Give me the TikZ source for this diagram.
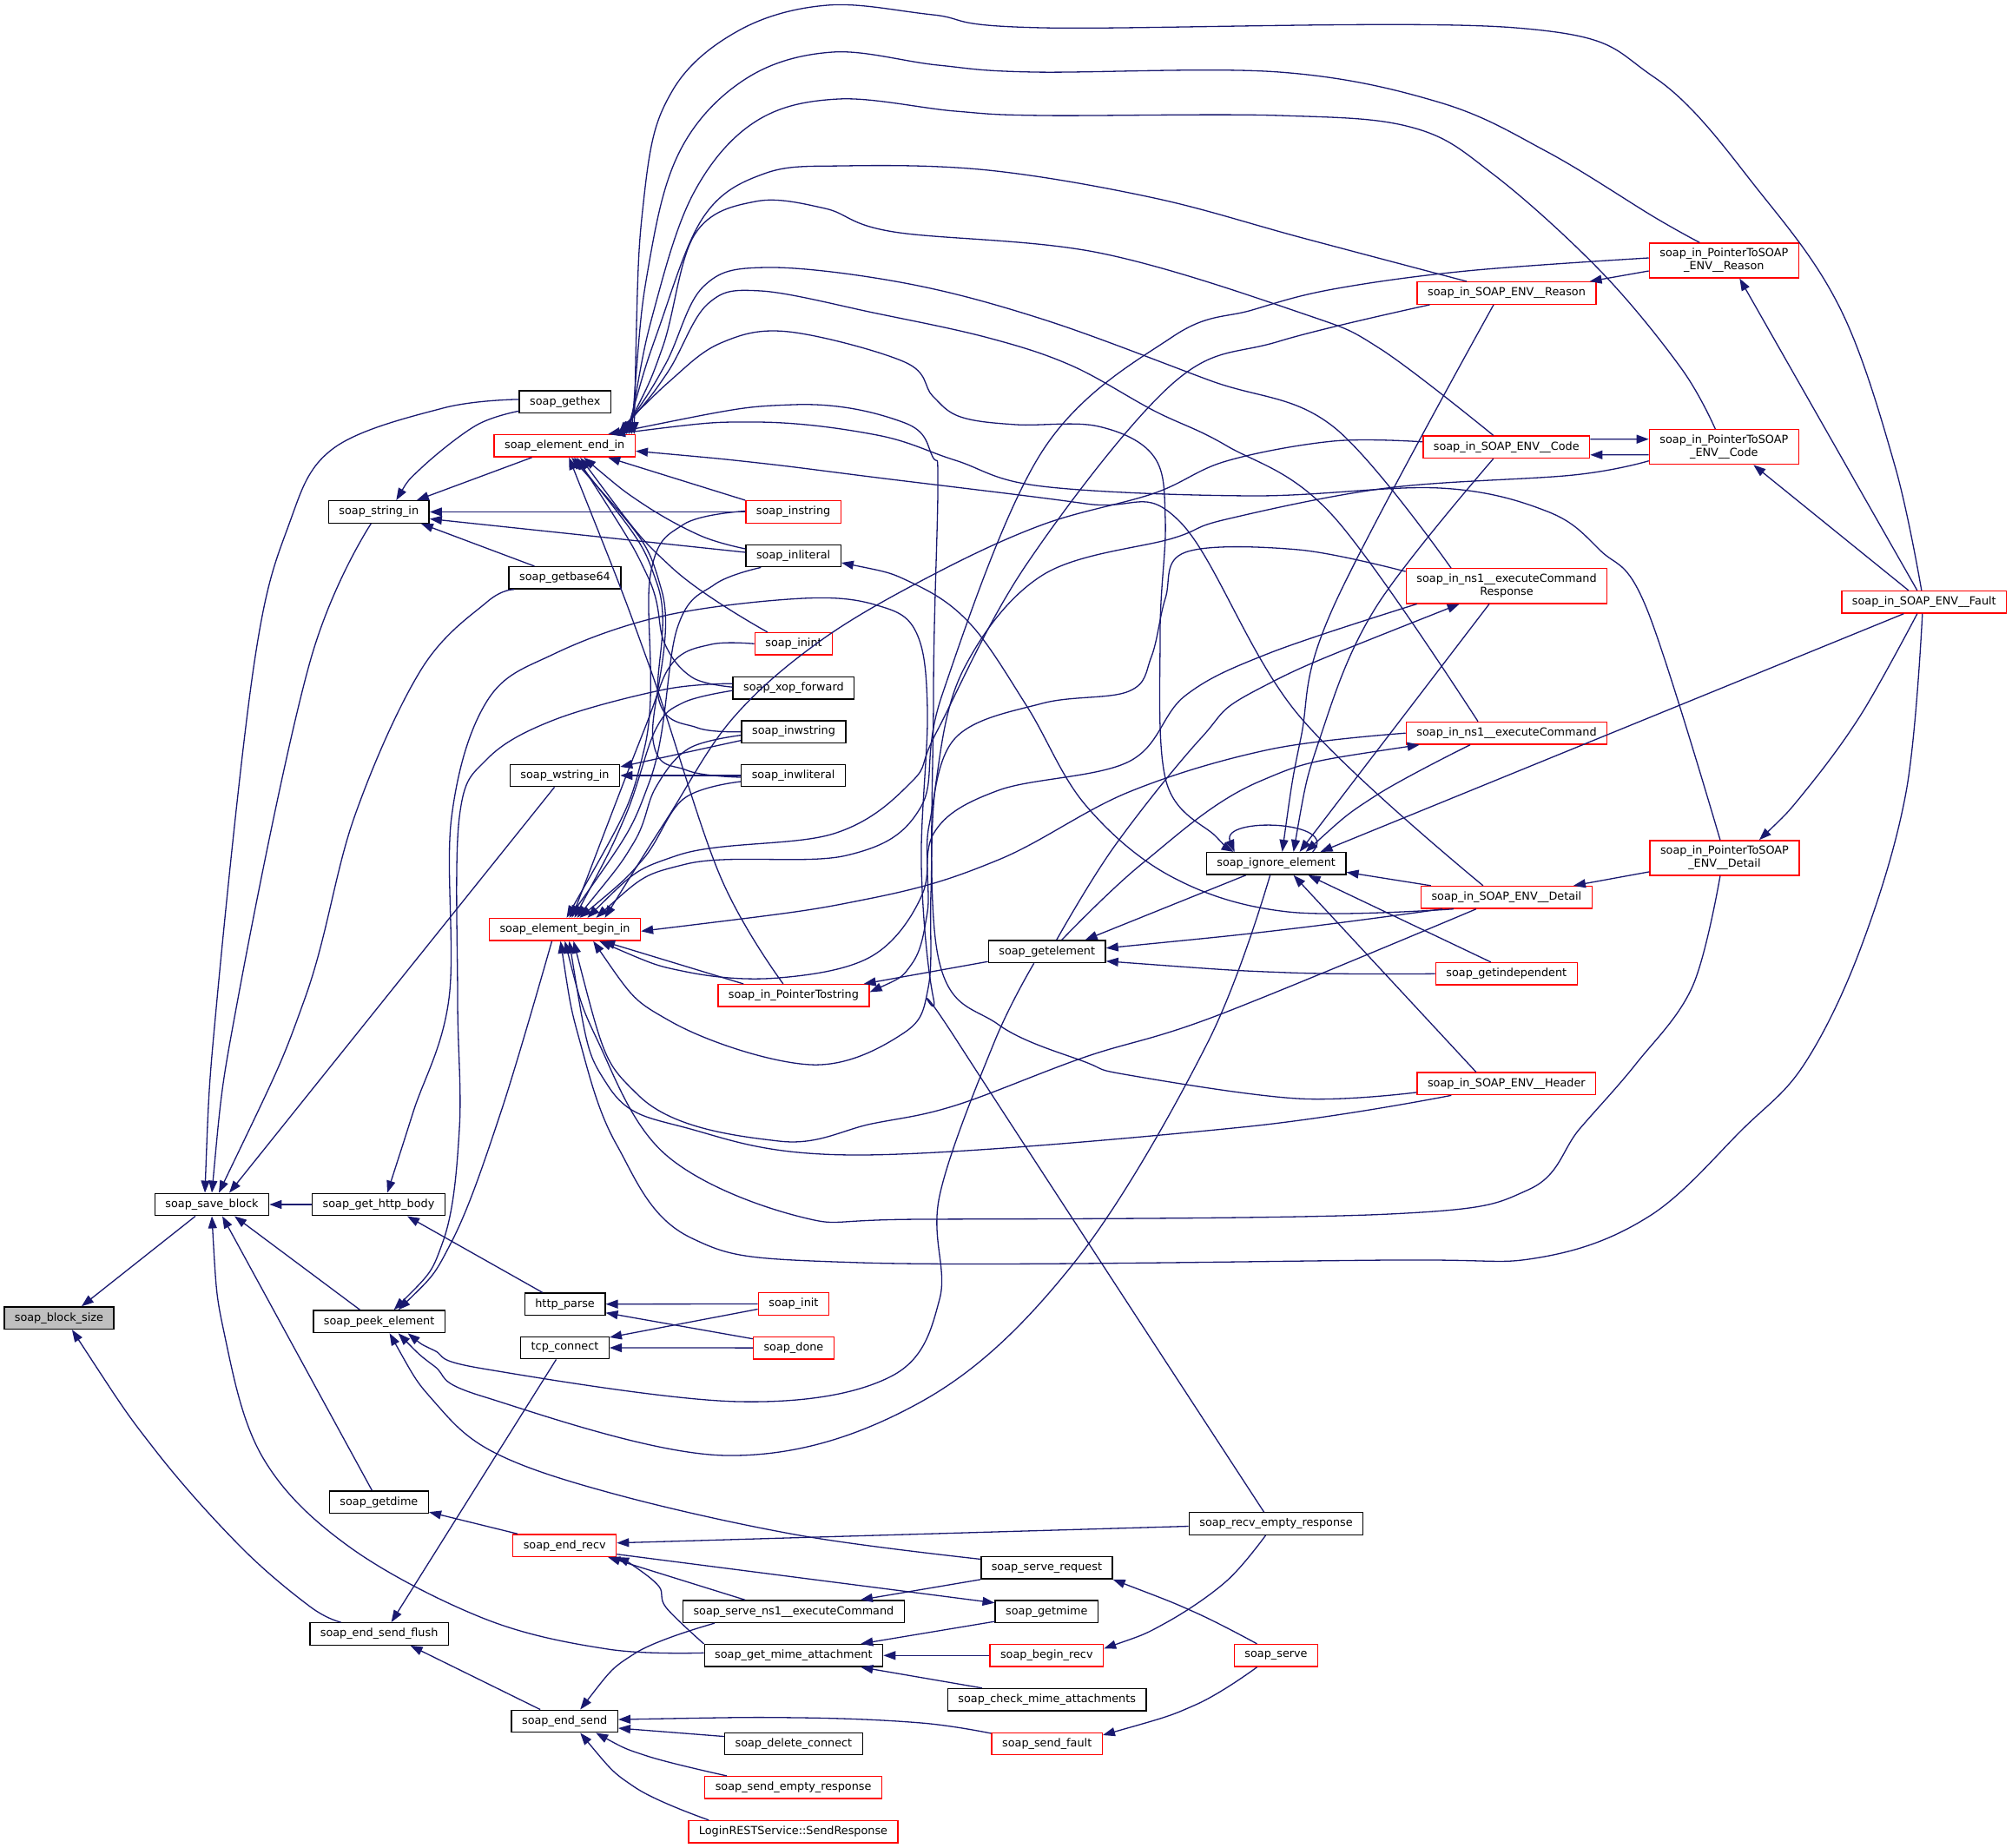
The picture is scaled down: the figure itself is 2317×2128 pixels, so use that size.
\documentclass[tikz,border=0pt]{standalone}
\usepackage{fontspec}
\setmainfont{DejaVu Sans}
\usetikzlibrary{arrows.meta,calc}
\definecolor{mb}{HTML}{191970}
\definecolor{gr}{HTML}{BFBFBF}
\begin{document}
\begin{tikzpicture}[x=0.5pt,y=-0.5pt,
  boxk/.style={draw=black, line width=0.7pt, fill=white, font=\fontsize{6.4}{7.6}\selectfont, inner xsep=6pt, inner ysep=1pt, minimum height=12.75pt, align=center},
  boxr/.style={boxk, draw=red},
  boxg/.style={boxk, fill=gr},
  boxr2/.style={boxr, minimum height=20pt},
  cedge/.style={draw=mb, line width=0.65pt, line join=round, {Triangle[length=7pt,width=5pt]}-},
  sm/.style={smooth, tension=0.6}]
\fill[white] (0,0) rectangle (2317,2128);
\useasboundingbox (0,0) rectangle (2317,2128);
% nodes
\node[boxg] (bs) at (67.9,1517.7) {soap\_block\_size};
\node[boxk] (sb) at (244,1387) {soap\_save\_block};
\node[boxk] (ghb) at (436,1387) {soap\_get\_http\_body};
\node[boxk] (pe) at (436.6,1521.8) {soap\_peek\_element};
\node[boxk] (gd) at (436.4,1729.7) {soap\_getdime};
\node[boxk] (esf) at (436.6,1881.5) {soap\_end\_send\_flush};
\node[boxk] (gx) at (650.8,462.9) {soap\_gethex};
\node[boxk] (si) at (436.3,589.5) {soap\_string\_in};
\node[boxr] (eei) at (650.2,513.4) {soap\_element\_end\_in};
\node[boxk] (gb) at (650.5,665.4) {soap\_getbase64};
\node[boxk] (wsi) at (650.5,893) {soap\_wstring\_in};
\node[boxr] (ebi) at (650.5,1070.3) {soap\_element\_begin\_in};
\node[boxk] (hp) at (650.6,1501.7) {http\_parse};
\node[boxk] (tc) at (650.5,1552) {tcp\_connect};
\node[boxr] (er) at (650.2,1779.7) {soap\_end\_recv};
\node[boxk] (es) at (650.2,1982) {soap\_end\_send};
\node[boxr] (ins) at (913.6,589.5) {soap\_instring};
\node[boxk] (inl) at (913.6,640) {soap\_inliteral};
\node[boxr] (ini) at (914,741.3) {soap\_inint};
\node[boxk] (xop) at (913.9,792.2) {soap\_xop\_forward};
\node[boxk] (inws) at (914,842.6) {soap\_inwstring};
\node[boxk] (inwl) at (913.6,893) {soap\_inwliteral};
\node[boxr] (pts) at (913.9,1146.4) {soap\_in\_PointerTostring};
\node[boxr] (init) at (913.9,1501.5) {soap\_init};
\node[boxr] (done) at (913.9,1552.1) {soap\_done};
\node[boxk] (sns) at (913.9,1855.7) {soap\_serve\_ns1\_\_executeCommand};
\node[boxk] (gma) at (913.9,1906.3) {soap\_get\_mime\_attachment};
\node[boxk] (dc) at (913.9,2008) {soap\_delete\_connect};
\node[boxr] (ser) at (913.6,2058.4) {soap\_send\_empty\_response};
\node[boxr] (lrs) at (913.5,2109.3) {LoginRESTService::SendResponse};
\node[boxk] (ge) at (1205.7,1095.8) {soap\_getelement};
\node[boxk] (srq) at (1205.4,1805.4) {soap\_serve\_request};
\node[boxk] (gm) at (1205.3,1855.7) {soap\_getmime};
\node[boxr] (br) at (1205.3,1906.3) {soap\_begin\_recv};
\node[boxk] (cma) at (1205.7,1957.2) {soap\_check\_mime\_attachments};
\node[boxr] (sf) at (1205.7,2008) {soap\_send\_fault};
\node[boxk] (ie) at (1469.6,994.4) {soap\_ignore\_element};
\node[boxk] (rer) at (1469.5,1754.5) {soap\_recv\_empty\_response};
\node[boxr] (srv) at (1469.5,1906.3) {soap\_serve};
\node[boxr] (rsn) at (1735,337.5) {soap\_in\_SOAP\_ENV\_\_Reason};
\node[boxr] (cod) at (1734.7,514.8) {soap\_in\_SOAP\_ENV\_\_Code};
\node[boxr2] (nr) at (1735,674.8) {soap\_in\_ns1\_\_executeCommand\\Response};
\node[boxr] (nc) at (1735,844.2) {soap\_in\_ns1\_\_executeCommand};
\node[boxr] (det) at (1734.9,1033.3) {soap\_in\_SOAP\_ENV\_\_Detail};
\node[boxr] (gi) at (1734.8,1121.3) {soap\_getindependent};
\node[boxr] (hdr) at (1734.8,1247.9) {soap\_in\_SOAP\_ENV\_\_Header};
\node[boxr2] (prs) at (1985.3,300) {soap\_in\_PointerToSOAP\\\_ENV\_\_Reason};
\node[boxr2] (pcd) at (1985.3,514.7) {soap\_in\_PointerToSOAP\\\_ENV\_\_Code};
\node[boxr2] (pdt) at (1985.9,987.9) {soap\_in\_PointerToSOAP\\\_ENV\_\_Detail};
\node[boxr] (flt) at (2215.8,693.3) {soap\_in\_SOAP\_ENV\_\_Fault};
% edges: arrow tip at the callee (first point)
\draw[cedge] ($(bs.north)+(26,0)$) -- ($(sb.south)+(-19,0)$);
\draw[cedge] plot[sm] coordinates {($(bs.south)+(15,0)$) (178,1669) (277,1781) (357,1850) ($(esf.north)+(-44,0)$)};
\draw[cedge] plot[sm] coordinates {($(sb.north)+(-8,0)$) (250,1150) (293,762) (332,606) (383,517) (510,470) ($(gx.west)+(0,-3)$)};
\draw[cedge] plot[sm] coordinates {($(sb.north)+(0,0)$) (274,1150) (357,762) ($(si.south)+(-9,0)$)};
\draw[cedge] plot[sm] coordinates {($(sb.north)+(8,0)$) (351,1150) (408,941) (485,771) (561,693) ($(gb.south west)+(7,0)$)};
\draw[cedge] ($(sb.north)+(20,0)$) -- ($(wsi.south)+(-12,0)$);
\draw[cedge] (sb.east) -- (ghb.west);
\draw[cedge] ($(sb.south)+(26,0)$) -- ($(pe.north)+(-22,0)$);
\draw[cedge] ($(sb.south)+(12,0)$) -- ($(gd.north)+(-8,0)$);
\draw[cedge] plot[sm] coordinates {($(sb.south)+(0,0)$) (259,1539) (303,1679) (402,1781) (558,1864) (700,1899) ($(gma.west)+(0,-3)$)};
\draw[cedge] plot[sm] coordinates {($(si.north)+(20,0)$) (485,539) (548,490) ($(gx.south west)+(0,-3)$)};
\draw[cedge] ($(si.north east)+(-15,0)$) -- ($(eei.south west)+(44,0)$);
\draw[cedge] (si.east) -- (ins.west);
\draw[cedge] ($(si.east)+(0,8)$) -- ($(inl.west)+(0,-4)$);
\draw[cedge] ($(si.south east)+(-10,0)$) -- ($(gb.north)+(-35,0)$);
\draw[cedge] ($(eei.south)+(50,0)$) -- (ins.north west);
\draw[cedge] plot[sm] coordinates {($(eei.south)+(22,0)$) (740,580) (807,617) ($(inl.west)+(0,-8)$)};
\draw[cedge] plot[sm] coordinates {($(eei.south)+(18,0)$) (773,653) ($(ini.north west)+(15,0)$)};
\draw[cedge] plot[sm] coordinates {($(eei.south)+(14,0)$) (746,664) (765,740) (797,780) ($(xop.west)+(0,-1)$)};
\draw[cedge] plot[sm] coordinates {($(eei.south)+(11,0)$) (757,673) (759,807) (803,838) (inws.west)};
\draw[cedge] plot[sm] coordinates {($(eei.south)+(8,0)$) (762,680) (752,852) (791,887) ($(inwl.west)+(0,2)$)};
\draw[cedge] plot[sm] coordinates {($(eei.south)+(5,0)$) (746,762) (829,1008) ($(pts.north)+(-12,0)$)};
% big upper curves from element_end_in
\draw[cedge] plot[sm] coordinates {($(eei.north)+(80,0)$) (742,224) (774,105) (851,35) (953,6) (1074,17) (1200,32) (1745,32) (1905,89) (2028,223) (2120,357) (2182,536) ($(flt.north)+(-3,0)$)};
\draw[cedge] plot[sm] coordinates {($(eei.north)+(77,0)$) (748,300) (785,170) (860,90) (959,60) (1080,75) (1190,83) (1473,83) (1658,118) (1782,175) (1905,250) ($(prs.north)+(-28,0)$)};
\draw[cedge] plot[sm] coordinates {($(eei.north)+(74,0)$) (755,350) (800,220) (870,140) (966,114) (1100,128) (1200,133) (1473,133) (1627,147) (1720,201) (1843,312) (1936,424) ($(pcd.north)+(-10,0)$)};
\draw[cedge] plot[sm] coordinates {($(eei.north)+(71,0)$) (758,380) (810,250) (880,200) (972,191) (1138,196) (1329,228) (1500,274) ($(rsn.north)+(-46,0)$)};
\draw[cedge] plot[sm] coordinates {($(eei.north)+(68,0)$) (763,400) (800,270) (870,232) (950,240) (1029,267) (1265,291) (1500,361) (1590,402) ($(cod.north)+(-15,0)$)};
\draw[cedge] plot[sm] coordinates {($(eei.north)+(65,0)$) (766,420) (810,330) (883,308) (1042,326) (1202,368) (1393,438) (1535,491) ($(nr.north)+(-64,0)$)};
\draw[cedge] plot[sm] coordinates {($(eei.north)+(62,0)$) (768,430) (815,350) (876,335) (1010,361) (1138,389) (1234,421) (1329,473) (1412,513) (1535,594) ($(nc.north)+(-33,0)$)};
\draw[cedge] plot[sm] coordinates {($(ie.north west)+(32,0)$) (1400,963) (1343,900) (1336,729) (1342,600) (1329,526) (1265,491) (1170,489) (1106,480) (1074,456) (1042,417) (908,382) (830,395) (770,440) ($(eei.north)+(59,0)$)};
\draw[cedge] plot[sm] coordinates {($(eei.east)+(0,6)$) (873,533) (1010,550) (1250,580) (1358,600) (1495,823) ($(det.north)+(-27,0)$)};
\draw[cedge] plot[sm] coordinates {($(eei.north)+(50,0)$) (914,466) (1042,487) (1074,526) (1080,560) (1075,800) (1080,1100) (1150,1180) (1250,1223) (1300,1238) (1494,1265) ($(hdr.west)+(0,10)$)};
\draw[cedge] plot[sm] coordinates {($(eei.north)+(56,0)$) (870,486) (1010,501) (1100,530) (1200,560) (1443,571) (1658,562) (1782,589) (1843,634) (1896,700) ($(pdt.north)+(-5,0)$)};
% element_begin_in callers
\draw[cedge] plot[sm] coordinates {($(ebi.north)+(2,0)$) (742,862) (749,662) (787,604) ($(ins.west)+(0,-1)$)};
\draw[cedge] plot[sm] coordinates {($(ebi.north)+(5,0)$) (748,900) (780,723) (823,673) ($(inl.south west)+(18,0)$)};
\draw[cedge] plot[sm] coordinates {($(ebi.north)+(8,0)$) (742,840) (774,764) (819,742) (ini.west)};
\draw[cedge] plot[sm] coordinates {($(ebi.north)+(11,0)$) (720,940) (755,840) (787,809) ($(xop.west)+(0,3)$)};
\draw[cedge] plot[sm] coordinates {($(ebi.north)+(14,0)$) (730,970) (755,907) (793,862) ($(inws.west)+(0,4)$)};
\draw[cedge] plot[sm] coordinates {($(ebi.north)+(17,0)$) (740,990) (787,920) ($(inwl.west)+(0,7)$)};
\draw[cedge] ($(ebi.south east)+(-44,0)$) -- ($(pts.north west)+(30,0)$);
\draw[cedge] plot[sm] coordinates {($(ebi.north)+(26,0)$) (780,985) (960,960) (1050,900) (1079,842) (1182,650) (1350,442) (1473,393) ($(rsn.south west)+(15,0)$)};
\draw[cedge] plot[sm] coordinates {($(ebi.north)+(36,0)$) (790,995) (975,985) (1060,930) (1085,800) (1200,520) (1350,388) (1442,357) (1535,333) (1689,312) ($(prs.west)+(0,-3)$)};
\draw[cedge] plot[sm] coordinates {($(ebi.north)+(46,0)$) (768,943) (844,827) (946,737) (1074,662) (1201,604) (1329,568) (1412,531) (1535,508) ($(cod.west)+(0,-6)$)};
\draw[cedge] plot[sm] coordinates {($(ebi.south east)+(-55,0)$) (772,1176) (933,1226) (1040,1190) (1069,1137) (1072,1030) (1078,900) (1110,770) (1201,662) (1350,620) (1412,598) (1597,562) (1812,547) ($(pcd.west)+(0,16)$)};
\draw[cedge] plot[sm] coordinates {($(ebi.south east)+(-48,0)$) (790,1119) (897,1126) (1004,1101) (1062,1030) (1070,950) (1100,850) (1200,810) (1300,796) (1326,756) (1342,689) (1365,636) (1495,633) ($(nr.north west)+(0,4)$)};
\draw[cedge] plot[sm] coordinates {($(ebi.east)+(0,2)$) (1000,1035) (1150,990) (1300,912) (1462,863) (nc.west)};
\draw[cedge] plot[sm] coordinates {($(ebi.south)+(10,0)$) (736,1262) (897,1314) (1004,1294) (1100,1273) (1250,1217) (1400,1170) ($(det.south)+(-35,0)$)};
\draw[cedge] plot[sm] coordinates {($(ebi.south)+(5,0)$) (700,1250) (795,1300) (991,1330) (1430,1298) ($(hdr.south west)+(40,0)$)};
\draw[cedge] plot[sm] coordinates {($(ebi.south)+(0,0)$) (689,1200) (767,1330) (921,1401) (1061,1404) (1600,1398) (1760,1370) (1819,1300) (1884,1225) (1949,1136) ($(pdt.south)+(-5,0)$)};
\draw[cedge] plot[sm] coordinates {($(ebi.south)+(-5,0)$) (668,1200) (710,1318) (795,1425) (991,1454) (1600,1451) (1773,1448) (1900,1400) (2007,1300) (2078,1225) (2143,1091) (2195,912) ($(flt.south)+(-2,0)$)};
% peek element
\draw[cedge] plot[sm] coordinates {($(pe.north)+(22,0)$) (520,1430) (577,1280) ($(ebi.south)+(-15,0)$)};
\draw[cedge] plot[sm] coordinates {($(pe.north)+(17,0)$) (510,1430) (529,1300) (527,1150) (529,941) (561,874) (638,829) (765,794) ($(xop.west)+(0,-5)$)};
\draw[cedge] plot[sm] coordinates {($(ghb.north)+(10,0)$) (476,1280) (517,1150) (520,941) (561,807) (638,753) (765,709) (925,689) (1010,697) (1055,728) (1068,818) (1061,996) (1075,1150) (1103,1200) ($(rer.north)+(-14,0)$)};
\draw[cedge] ($(ghb.south)+(33,0)$) -- ($(hp.north)+(-26,0)$);
\draw[cedge] plot[sm] coordinates {($(pe.south)+(33,0)$) (500,1555) (556,1576) (851,1614) (1026,1585) (1082,1496) (1082,1377) (1145,1200) ($(ge.south)+(-15,0)$)};
\draw[cedge] plot[sm] coordinates {($(pe.south)+(22,0)$) (500,1573) (556,1608) (837,1676) (1061,1614) (1237,1454) (1391,1200) ($(ie.south)+(-7,0)$)};
\draw[cedge] plot[sm] coordinates {($(pe.south)+(12,0)$) (500,1614) (570,1673) (710,1721) (921,1768) ($(srq.west)+(0,-10)$)};
% lower part
\draw[cedge] (hp.east) -- (init.west);
\draw[cedge] ($(hp.east)+(0,10)$) -- ($(done.north west)+(0,3)$);
\draw[cedge] ($(tc.east)+(0,-12)$) -- ($(init.west)+(0,6)$);
\draw[cedge] (tc.east) -- (done.west);
\draw[cedge] ($(esf.north)+(14,0)$) -- ($(tc.south)+(-10,0)$);
\draw[cedge] ($(esf.south)+(36,0)$) -- ($(es.north)+(-28,0)$);
\draw[cedge] ($(gd.south east)+(0,-2)$) -- ($(er.north west)+(6,0)$);
\draw[cedge] ($(er.east)+(0,-3)$) -- ($(rer.west)+(0,3)$);
\draw[cedge] ($(gm.west)+(0,-10)$) -- ($(er.east)+(0,10)$);
\draw[cedge] ($(er.south)+(50,0)$) -- ($(sns.north)+(-56,0)$);
\draw[cedge] plot[sm] coordinates {($(er.south)+(60,0)$) (731,1804) (759,1827) (767,1851) (gma.north west)};
\draw[cedge] ($(sns.north)+(77,0)$) -- (srq.south west);
\draw[cedge] plot[sm] coordinates {(srq.south east) (1377,1857) ($(srv.north)+(-22,0)$)};
\draw[cedge] plot[sm] coordinates {($(sf.east)+(0,-10)$) (1377,1963) ($(srv.south)+(-22,0)$)};
\draw[cedge] ($(gma.north east)+(-26,0)$) -- ($(gm.south west)+(0,-2)$);
\draw[cedge] (gma.east) -- (br.west);
\draw[cedge] ($(gma.south east)+(-26,0)$) -- ($(cma.north west)+(40,0)$);
\draw[cedge] plot[sm] coordinates {($(br.east)+(0,-8)$) (1342,1869) (1412,1821) ($(rer.south)+(-12,0)$)};
\draw[cedge] plot[sm] coordinates {($(es.north)+(18,0)$) (731,1904) ($(sns.south west)+(37,0)$)};
\draw[cedge] plot[sm] coordinates {($(es.east)+(0,-2)$) (921,1978) (1061,1984) ($(sf.west)+(0,-12)$)};
\draw[cedge] ($(es.east)+(0,8)$) -- ($(dc.north west)+(0,5)$);
\draw[cedge] plot[sm] coordinates {($(es.south)+(36,0)$) (745,2022) ($(ser.north west)+(26,0)$)};
\draw[cedge] plot[sm] coordinates {($(es.south)+(18,0)$) (731,2058) ($(lrs.north west)+(24,0)$)};
% right part
\draw[cedge] ($(rsn.north east)+(-8,0)$) -- ($(prs.west)+(0,12)$);
\draw[cedge] ($(prs.south)+(18,0)$) -- ($(flt.north)+(-8,0)$);
\draw[cedge] ($(pcd.west)+(0,-9)$) -- ($(cod.east)+(0,-9)$);
\draw[cedge] ($(cod.east)+(0,9)$) -- ($(pcd.west)+(0,9)$);
\draw[cedge] ($(pcd.south)+(34,0)$) -- ($(flt.north)+(-18,0)$);
\draw[cedge] plot[sm] coordinates {($(pdt.north)+(40,0)$) (2078,912) (2143,823) ($(flt.south)+(-8,0)$)};
\draw[cedge] ($(det.north east)+(-22,0)$) -- ($(pdt.west)+(0,16)$);
\draw[cedge] ($(ie.north east)+(-30,0)$) -- ($(flt.south west)+(72,0)$);
\draw[cedge] plot[sm] coordinates {($(ie.north)+(7,0)$) (1498,850) (1535,700) ($(rsn.south)+(-15,0)$)};
\draw[cedge] plot[sm] coordinates {($(ie.north)+(20,0)$) (1520,850) (1584,700) ($(cod.south)+(-15,0)$)};
\draw[cedge] ($(ie.north)+(27,0)$) -- ($(nr.south)+(-20,0)$);
\draw[cedge] plot[sm] coordinates {($(ie.north)+(34,0)$) (1583,917) ($(nc.south)+(-42,0)$)};
\draw[cedge] ($(ie.east)+(0,10)$) -- ($(det.north west)+(12,0)$);
\draw[cedge] ($(ie.south)+(20,0)$) -- ($(hdr.north)+(-35,0)$);
\draw[cedge] ($(ie.south)+(37,0)$) -- ($(gi.north)+(-18,0)$);
\draw[cedge] ($(ge.north)+(44,0)$) -- ($(ie.south)+(-35,0)$);
\draw[cedge] plot[sm] coordinates {($(ge.east)+(0,-4)$) (1483,1070) ($(det.south west)+(25,0)$)};
\draw[cedge] plot[sm] coordinates {($(ge.east)+(0,11)$) (1483,1120) (gi.west)};
\draw[cedge] ($(pts.north east)+(-7,0)$) -- ($(ge.south west)+(0,-2)$);
\draw[cedge] plot[sm] coordinates {($(pts.east)+(0,-4)$) (1050,1110) (1068,1050) (1075,960) (1150,910) (1300,877) (1365,801) (1462,752) ($(nr.south west)+(13,0)$)};
\draw[cedge] plot[sm] coordinates {($(nr.south west)+(62,0)$) (1450,793) (1383,850) (1283,975) ($(ge.north)+(11,0)$)};
\draw[cedge] plot[sm] coordinates {($(nc.south west)+(16,0)$) (1450,900) (1317,993) ($(ge.north)+(17,0)$)};
\draw[cedge] plot[sm] coordinates {($(inl.east)+(0,8)$) (1050,671) (1117,718) (1183,814) (1250,927) (1350,1010) (1483,1050) ($(det.south west)+(38,0)$)};
\draw[cedge] ($(wsi.east)+(0,-10)$) -- ($(inws.west)+(0,10)$);
\draw[cedge] (wsi.east) -- (inwl.west);
\draw[cedge] ($(ie.north)+(-48,0)$) .. controls (1405,940) and (1545,945) .. ($(ie.north)+(42,0)$);
\end{tikzpicture}
\end{document}
